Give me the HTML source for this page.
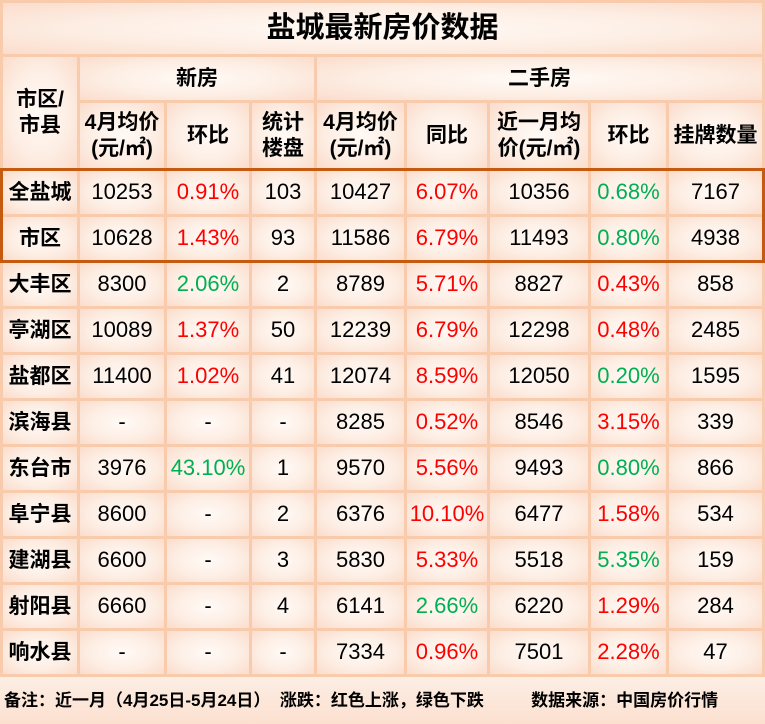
<!DOCTYPE html>
<html><head><meta charset="utf-8"><style>
*{margin:0;padding:0;box-sizing:border-box}
body{width:765px;height:724px;background:#f8cbad;position:relative;overflow:hidden;font-family:"Liberation Sans","Noto Sans CJK SC",sans-serif}
.c{position:absolute;display:flex;align-items:center;justify-content:center;text-align:center;background:radial-gradient(ellipse at center,#fffaf6 0%,#fdeee4 55%,#fbdccb 100%);font-size:22px;color:#000;line-height:1.2}
.h{font-weight:bold;font-size:21px}
.r{color:#ff0000}.g{color:#00b050}
.bar{position:absolute;background:#c55a11}
.foot{position:absolute;left:0;top:677px;width:765px;height:47px;background:linear-gradient(#fdeee4,#fbe0d0);font-size:17px;font-weight:bold;color:#000;padding:9px 0 0 4px;white-space:pre}
</style></head><body>
<div class="c" style="left:3px;top:3px;width:759px;height:51px;font-size:29px;font-weight:bold">盐城最新房价数据</div>
<div class="c h" style="left:3px;top:57px;width:74px;height:111px">市区/<br>市县</div>
<div class="c h" style="left:80px;top:57px;width:234px;height:43px">新房</div>
<div class="c h" style="left:317px;top:57px;width:445px;height:43px">二手房</div>
<div class="c h" style="left:80px;top:103px;width:84px;height:65px">4月均价<br>(元/㎡)</div>
<div class="c h" style="left:167px;top:103px;width:82px;height:65px">环比</div>
<div class="c h" style="left:252px;top:103px;width:62px;height:65px">统计<br>楼盘</div>
<div class="c h" style="left:317px;top:103px;width:87px;height:65px">4月均价<br>(元/㎡)</div>
<div class="c h" style="left:407px;top:103px;width:80px;height:65px">同比</div>
<div class="c h" style="left:490px;top:103px;width:98px;height:65px">近一月均<br>价(元/㎡)</div>
<div class="c h" style="left:591px;top:103px;width:75px;height:65px">环比</div>
<div class="c h" style="left:669px;top:103px;width:93px;height:65px">挂牌数量</div>
<div id="rows"></div>
<script>
var X=[3,80,167,252,317,407,490,591,669],W=[74,84,82,62,87,80,98,75,93];
var D=[
["全盐城","10253","r0.91%","103","10427","r6.07%","10356","g0.68%","7167"],
["市区","10628","r1.43%","93","11586","r6.79%","11493","g0.80%","4938"],
["大丰区","8300","g2.06%","2","8789","r5.71%","8827","r0.43%","858"],
["亭湖区","10089","r1.37%","50","12239","r6.79%","12298","r0.48%","2485"],
["盐都区","11400","r1.02%","41","12074","r8.59%","12050","g0.20%","1595"],
["滨海县","-","-","-","8285","r0.52%","8546","r3.15%","339"],
["东台市","3976","g43.10%","1","9570","r5.56%","9493","g0.80%","866"],
["阜宁县","8600","-","2","6376","r10.10%","6477","r1.58%","534"],
["建湖县","6600","-","3","5830","r5.33%","5518","g5.35%","159"],
["射阳县","6660","-","4","6141","g2.66%","6220","r1.29%","284"],
["响水县","-","-","-","7334","r0.96%","7501","r2.28%","47"]];
var h="";
D.forEach(function(r,i){var y=171+i*46;r.forEach(function(v,j){var cl="c"+(j==0?" h":"");if(v[0]=="r"||v[0]=="g"){cl+=" "+v[0];v=v.slice(1);}
h+='<div class="'+cl+'" style="left:'+X[j]+'px;top:'+y+'px;width:'+W[j]+'px;height:43px">'+v+'</div>';});});
document.getElementById("rows").outerHTML=h;
</script>
<div class="bar" style="left:0;top:168px;width:765px;height:3px"></div>
<div class="bar" style="left:0;top:260px;width:765px;height:3px"></div>
<div class="bar" style="left:0;top:168px;width:3px;height:95px"></div>
<div class="bar" style="left:762px;top:168px;width:3px;height:95px"></div>
<div class="foot">备注：近一月（4月25日-5月24日）  涨跌：红色上涨，绿色下跌          数据来源：中国房价行情</div>
</body></html>
